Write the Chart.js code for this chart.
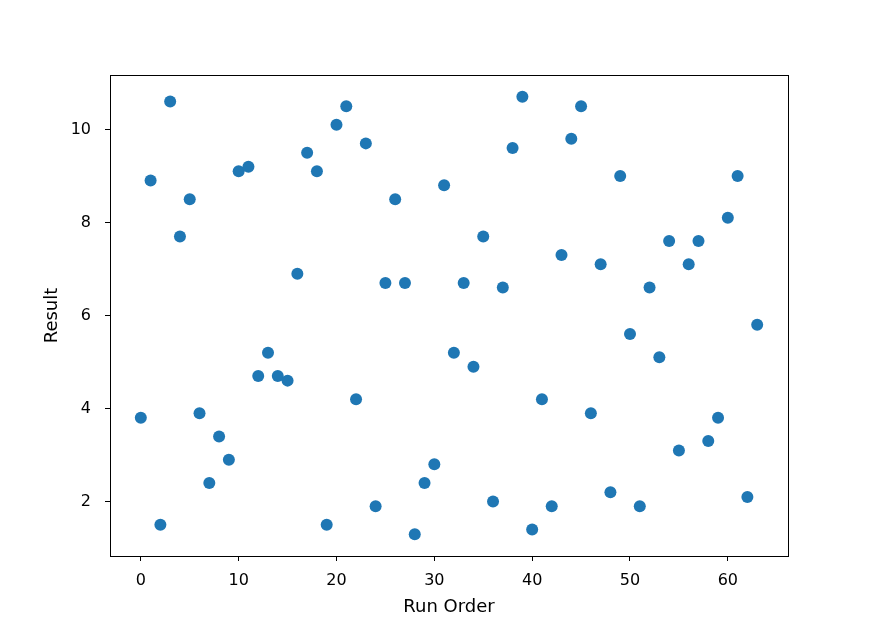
<!DOCTYPE html>
<html>
<head>
<meta charset="utf-8">
<script src="https://cdn.jsdelivr.net/npm/chart.js@4"></script>
<style>
  html, body { margin: 0; padding: 0; background: #fff; }
  #wrap { width: 875px; height: 625px; }
</style>
</head>
<body>
<div id="wrap"><canvas id="chart" width="875" height="625"></canvas></div>
<script>
/* ── DATA ─────────────────────────────────────────────── */
const runOrder = Array.from({ length: 64 }, (_, i) => i);
const results = [
  3.8, 8.9, 1.5, 10.6, 7.7, 8.5, 3.9, 2.4, 3.4, 2.9,
  9.1, 9.2, 4.7, 5.2, 4.7, 4.6, 6.9, 9.5, 9.1, 1.5,
  10.1, 10.5, 4.2, 9.7, 1.9, 6.7, 8.5, 6.7, 1.3, 2.4,
  2.8, 8.8, 5.2, 6.7, 4.9, 7.7, 2.0, 6.6, 9.6, 10.7,
  1.4, 4.2, 1.9, 7.3, 9.8, 10.5, 3.9, 7.1, 2.2, 9.0,
  5.6, 1.9, 6.6, 5.1, 7.6, 3.1, 7.1, 7.6, 3.3, 3.8,
  8.1, 9.0, 2.1, 5.8
];
const xTicks = [0, 10, 20, 30, 40, 50, 60];
const yTicks = [2, 4, 6, 8, 10];

const points = runOrder.map((x, i) => ({ x, y: results[i] }));

Chart.defaults.font.family = "'DejaVu Sans', sans-serif";
Chart.defaults.color = '#000';

/* frame around the plot area (matplotlib spines) */
const frame = {
  id: 'frame',
  afterDatasetsDraw(chart) {
    const { ctx, chartArea: a } = chart;
    ctx.save();
    ctx.strokeStyle = '#000';
    ctx.lineWidth = 1;
    ctx.strokeRect(Math.round(a.left) + 0.5, Math.round(a.top) + 0.5,
                   Math.round(a.right - a.left), Math.round(a.bottom - a.top));
    ctx.restore();
  }
};

const fixedTicks = list => scale => { scale.ticks = list.map(v => ({ value: v })); };

new Chart(document.getElementById('chart'), {
  type: 'scatter',
  data: {
    datasets: [{
      data: points,
      backgroundColor: '#1f77b4',
      borderWidth: 0,
      pointRadius: 6,
      pointHoverRadius: 6,
    }]
  },
  options: {
    responsive: false,
    animation: false,
    layout: { padding: { left: 42, right: 87, top: 75, bottom: 0 } },
    plugins: { legend: { display: false }, tooltip: { enabled: false } },
    scales: {
      x: {
        type: 'linear',
        min: -3.15, max: 66.15,
        afterBuildTicks: fixedTicks(xTicks),
        afterFit: s => { s.height = 69; },
        grid: { drawOnChartArea: false, tickLength: 5, tickColor: '#000', tickWidth: 1 },
        border: { display: false },
        ticks: { font: { size: 16 }, padding: 10, maxRotation: 0 },
        title: { display: true, text: 'Run Order', font: { size: 18 }, padding: { top: 0, bottom: 7 } }
      },
      y: {
        type: 'linear',
        min: 0.83, max: 11.17,
        afterBuildTicks: fixedTicks(yTicks),
        afterFit: s => { s.width = 68; },
        grid: { drawOnChartArea: false, tickLength: 5, tickColor: '#000', tickWidth: 1 },
        border: { display: false },
        ticks: { font: { size: 16 }, padding: 14 },
        title: { display: true, text: 'Result', font: { size: 18 }, padding: { top: 0, bottom: 0 } }
      }
    }
  },
  plugins: [frame]
});
</script>
</body>
</html>
